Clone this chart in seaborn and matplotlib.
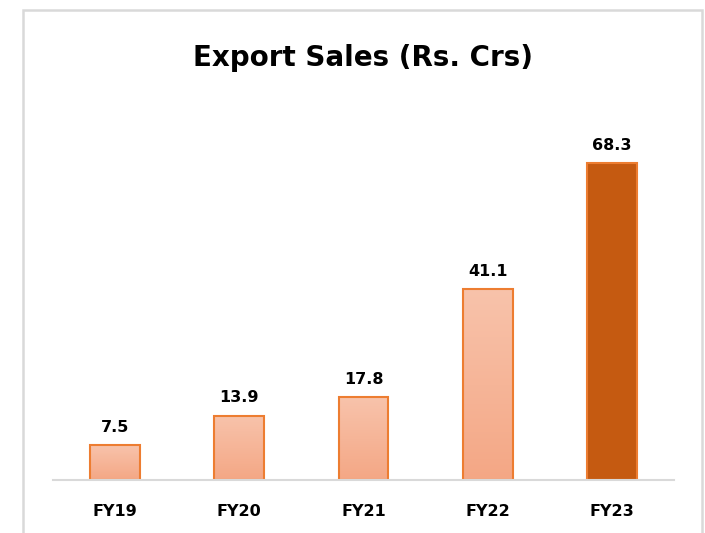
import matplotlib
matplotlib.use("Agg")
import matplotlib.pyplot as plt
import seaborn as sns
import numpy as np
import pandas as pd
from matplotlib.patches import Rectangle
from matplotlib.colors import LinearSegmentedColormap

years = ["FY19", "FY20", "FY21", "FY22", "FY23"]
sales = [7.5, 13.9, 17.8, 41.1, 68.3]
title = "Export Sales (Rs. Crs)"

sns.set_theme(style="white")
plt.rcParams['font.family'] = ['DejaVu Sans']

fig = plt.figure(figsize=(7.05, 5.33), dpi=100)
W, H = 705, 533
ax = fig.add_axes([53 / W, 1 - 480 / H, (674 - 53) / W, (480 - 109) / H])

df = pd.DataFrame({"year": years, "sales": sales})
edge = "#ed7d31"
sns.barplot(data=df, x="year", y="sales", ax=ax, width=0.4,
            color="#f6b497", edgecolor=edge, linewidth=1.5, saturation=1)

grad = LinearSegmentedColormap.from_list("g", ["#f4a785", "#f8c3ab"])
for i, p in enumerate(ax.patches):
    x0, y0 = p.get_x(), p.get_y()
    w, h = p.get_width(), p.get_height()
    if i < len(ax.patches) - 1:
        p.set_facecolor("none")
        img = np.linspace(0, 1, 100).reshape(-1, 1)
        im = ax.imshow(img, extent=[x0, x0 + w, y0, y0 + h], origin="lower",
                       cmap=grad, aspect="auto", zorder=p.get_zorder() - 0.1)
        im.set_clip_path(p)
    else:
        p.set_facecolor("#c55a11")
    ax.text(x0 + w / 2, h + 2.2, f"{sales[i]}", ha="center", va="bottom",
            fontsize=11.5, fontweight="bold", color="#000000")
ax.set_xlim(-0.5, len(years) - 0.5)
ax.set_ylim(0, 80)

for s in ["top", "right", "left"]:
    ax.spines[s].set_visible(False)
ax.spines["bottom"].set_color("#d9d9d9")
ax.spines["bottom"].set_linewidth(1.5)
ax.set_yticks([])
ax.set_xlabel("")
ax.set_ylabel("")
ax.tick_params(axis="x", length=0, pad=17)
for t in ax.get_xticklabels():
    t.set_fontsize(11.5)
    t.set_fontweight("bold")
    t.set_color("#000000")

fig.text(363 / W, 1 - 58 / H, title, ha="center", va="center",
         fontsize=20, fontweight="bold", color="#000000")

frame = Rectangle((23 / W, -0.05), (702 - 23) / W, 1 - 10 / H + 0.05,
                  transform=fig.transFigure, fill=False,
                  edgecolor="#d9d9d9", linewidth=1.8)
fig.patches.append(frame)

fig.savefig("out.png", dpi=100)
